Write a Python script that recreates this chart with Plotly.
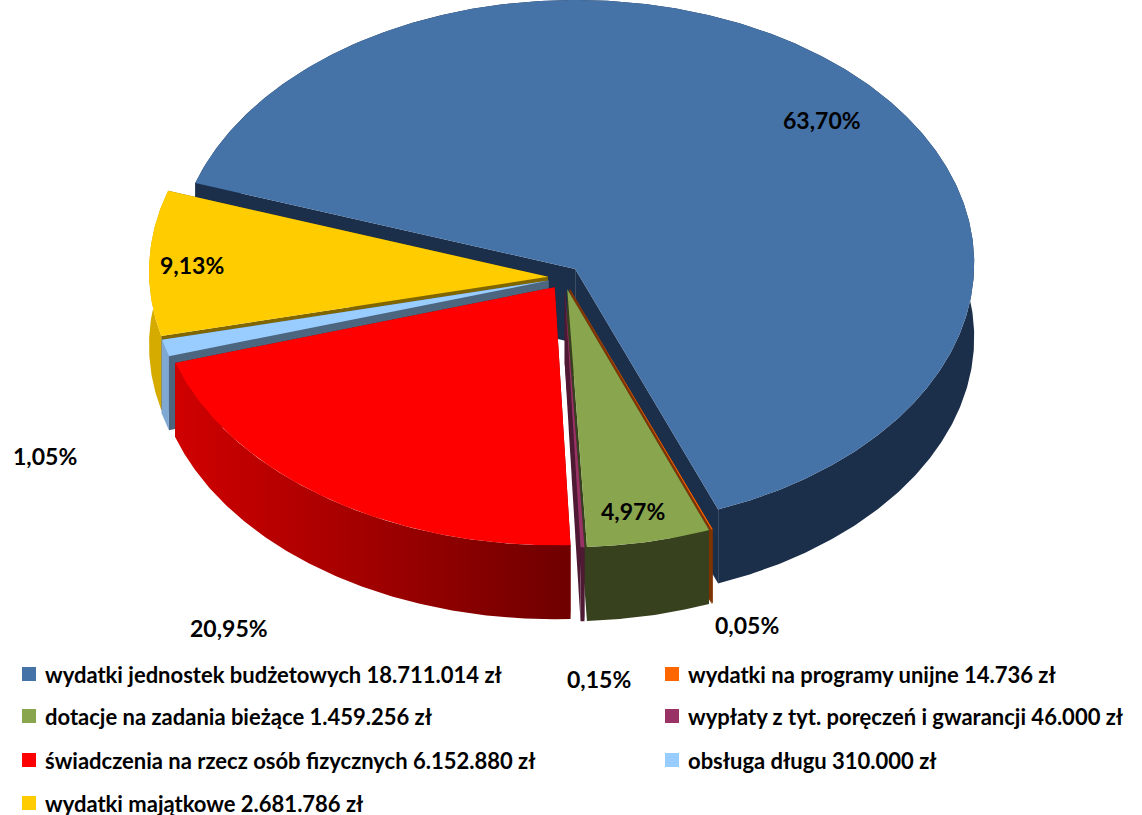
import numpy as np
import plotly.graph_objects as go

# ---- data (clockwise from the start of the first slice) ----
categories = ["wydatki jednostek budżetowych 18.711.014 zł",
              "wydatki na programy unijne 14.736 zł",
              "dotacje na zadania bieżące 1.459.256 zł",
              "wypłaty z tyt. poręczeń i gwarancji 46.000 zł",
              "świadczenia na rzecz osób fizycznych 6.152.880 zł",
              "obsługa długu 310.000 zł",
              "wydatki majątkowe 2.681.786 zł"]
amounts = [18711014, 14736, 1459256, 46000, 6152880, 310000, 2681786]
percent_labels = ["63,70%", "0,05%", "4,97%", "0,15%", "20,95%", "1,05%", "9,13%"]

# ---- styles ----
top_colors = ["#4572A7", "#FF6600", "#89A54E", "#993366", "#FF0000", "#99CCFF", "#FFCC00"]
wall_colors = ["#1C2F4A", "#7F3300", "#37411E", "#4D1933", None, "#7FA8D3", "#D6AB00"]
cut_colors = ["#1C2F4A", "#7F3300", "#37411E", "#4D1933", "#7F0000", "#4D667F", "#7F6600"]
red_gradient = [[0, "#D00000"], [0.5, "#A00000"], [1, "#6E0000"]]
paint_order = [0, 6, 5, 4, 1, 2, 3]

# ---- projection geometry (page pixels) ----
CX, CY = 564.0, 277.5
EX, EY = 16.0, 12.0
A, B = 399.0, 263.5
RIM_SHIFT = -5.5
DEPTH = 74.0
START = 199.8          # degrees clockwise from east
WARP = 1.5
FONT = "Lato"


def warp(t):
    return t - WARP * (1 - np.sin(np.radians(t)))


total = sum(amounts)
spans = [v / total * 360 for v in amounts]
edges = START + np.concatenate([[0], np.cumsum(spans)])

fig = go.Figure()


def poly(xs, ys, color=None, gradient=None):
    kw = dict(x=list(xs), y=list(ys), mode="lines", line=dict(width=0), fill="toself",
              hoverinfo="skip", showlegend=False)
    if gradient:
        kw["fillgradient"] = dict(type="horizontal", colorscale=gradient)
        kw["fillcolor"] = gradient[0][1]
    else:
        kw["fillcolor"] = color
    fig.add_trace(go.Scatter(**kw))


for i in paint_order:
    t0, t1 = edges[i], edges[i + 1]
    mid = np.radians((t0 + t1) / 2)
    ax = CX + EX * np.cos(mid)
    ay = CY + EY * np.sin(mid)
    ts = np.radians(warp(np.linspace(t0, t1, max(6, int((t1 - t0) * 2)))))
    rx = ax + A * np.cos(ts)
    ry = ay + RIM_SHIFT + B * np.sin(ts)
    # cut faces
    poly([ax, rx[0], rx[0], ax], [ay, ry[0], ry[0] + DEPTH, ay + DEPTH], cut_colors[i])
    poly([ax, rx[-1], rx[-1], ax], [ay, ry[-1], ry[-1] + DEPTH, ay + DEPTH], cut_colors[i])
    # outer wall
    wx = np.concatenate([rx, rx[::-1]])
    wy = np.concatenate([ry, ry[::-1] + DEPTH])
    if wall_colors[i] is None:
        poly(wx, wy, gradient=red_gradient)
    else:
        poly(wx, wy, wall_colors[i])
    # top
    poly(np.concatenate([[ax], rx, [ax]]), np.concatenate([[ay], ry, [ay]]), top_colors[i])

# ---- percent labels ----
label_pos = [(822, 120), (747, 625), (633, 511), (599, 679), (229, 628), (45, 456), (192, 265)]
for text, (x, y) in zip(percent_labels, label_pos):
    fig.add_annotation(x=x, y=y, text=text, showarrow=False, xanchor="center", yanchor="middle",
                       font=dict(family=FONT, size=23, color="#000000", weight=700))

# ---- legend (real text with square keys) ----
legend_order = [(0, 29, 674), (2, 29, 716), (4, 29, 760), (6, 29, 803),
                (1, 672, 674), (3, 672, 716), (5, 672, 760)]
for i, x, y in legend_order:
    fig.add_trace(go.Scatter(x=[x], y=[y], mode="markers", hoverinfo="skip", showlegend=False,
                             marker=dict(symbol="square", size=14, color=top_colors[i], line=dict(width=0))))
    fig.add_annotation(x=x + 14, y=y, text=categories[i], showarrow=False, xanchor="left", yanchor="middle",
                       font=dict(family=FONT, size=22, color="#000000", weight=700))

fig.update_layout(width=1142, height=815, margin=dict(l=0, r=0, t=0, b=0),
                  paper_bgcolor="white", plot_bgcolor="white",
                  xaxis=dict(range=[0, 1142], visible=False, fixedrange=True),
                  yaxis=dict(range=[815, 0], visible=False, fixedrange=True))
fig.write_html("out.html", config={"displayModeBar": False},
               post_script="document.body.style.margin='0';document.body.style.overflow='hidden';")
